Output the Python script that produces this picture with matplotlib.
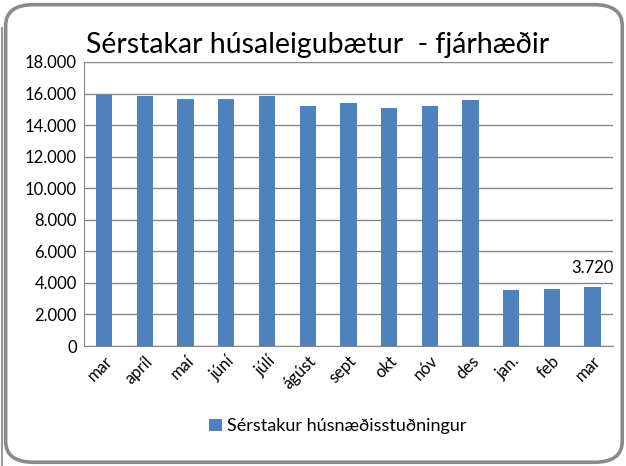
import numpy as np
import matplotlib
matplotlib.use('Agg')
import matplotlib.pyplot as plt
from matplotlib.patches import FancyBboxPatch
from matplotlib.lines import Line2D

months = ['mar', 'apríl', 'maí', 'júní', 'júlí', 'ágúst', 'sept', 'okt', 'nóv', 'des', 'jan.', 'feb', 'mar']
values = [15900, 15840, 15670, 15630, 15840, 15200, 15370, 15100, 15200, 15580, 3550, 3620, 3720]
yticks = [0, 2000, 4000, 6000, 8000, 10000, 12000, 14000, 16000, 18000]
ytick_labels = ['0', '2.000', '4.000', '6.000', '8.000', '10.000', '12.000', '14.000', '16.000', '18.000']
series_name = 'Sérstakur húsnæðisstuðningur'
title = 'Sérstakar húsaleigubætur  - fjárhæðir'

plt.rcParams['font.family'] = ['Lato', 'DejaVu Sans']

fig = plt.figure(figsize=(6.26, 4.66), dpi=100)
border = FancyBboxPatch((0.009, 0.008), 0.985, 0.982, boxstyle='round,pad=0,rounding_size=0.045',
                        transform=fig.transFigure, facecolor='none', edgecolor='#8a8a8a',
                        linewidth=2.6, zorder=5)
fig.patches.append(border)
# faint outer edge on the left side
fig.lines.append(Line2D([0.003, 0.003], [0.0, 0.94], transform=fig.transFigure,
                        color='#9a9a9a', linewidth=1.5))

ax = fig.add_axes([0.134, 0.2575, 0.845, 0.6095])
x = np.arange(len(months))
bars = ax.bar(x, values, width=0.4, color='#4F81BD', label=series_name, zorder=3)
ax.set_xlim(-0.5, len(months) - 0.5)
ax.set_ylim(0, 18000)
ax.set_yticks(yticks)
ax.set_yticklabels(ytick_labels, fontsize=12)
ax.set_xticks(x)
ax.set_xticklabels(months, fontsize=12, rotation=45, ha='right', va='top', rotation_mode='anchor')
ax.tick_params(length=0, pad=5)
ax.grid(axis='y', color='#868686', linewidth=1, zorder=0)
for s in ['top', 'right']:
    ax.spines[s].set_visible(False)
ax.spines['left'].set_color('#868686')
ax.spines['bottom'].set_color('#868686')
ax.set_facecolor('white')

ax.text(x[-1], values[-1] + 700, '3.720', ha='center', va='bottom', fontsize=12)

fig.text(0.138, 0.903, title, fontsize=20.5, ha='left', va='center')

fig.legend(handles=[bars], labels=[series_name], loc='center', bbox_to_anchor=(0.54, 0.085),
           frameon=False, fontsize=13, handlelength=0.7, handleheight=0.7, handletextpad=0.3)

fig.savefig('out.png', dpi=100)
